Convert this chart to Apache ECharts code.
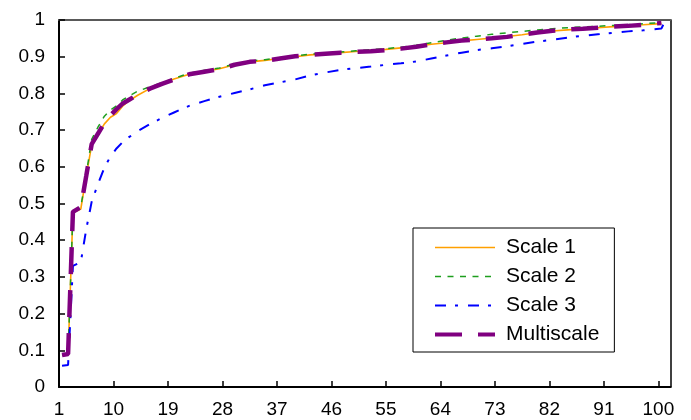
<!DOCTYPE html>
<html>
<head>
<meta charset="utf-8">
<script src="https://cdn.jsdelivr.net/npm/echarts@6/dist/echarts.min.js"></script>
<style>html,body{margin:0;padding:0;background:#fff;}#c{width:691px;height:420px;}</style>
</head>
<body>
<div id="c"></div>
<script>
// x positions (rank) of the sampled points
const xs = [1.5, 2.5, 3.3, 4.6, 5.5, 6.4, 7.5, 8.5, 9.5, 10.5, 11.5, 12.5, 14, 16, 18, 20,
  22.5, 25, 27.5, 30, 32.5, 35, 37.5, 40, 42.5, 45, 47.5, 50, 52.5, 55, 57.5, 60,
  62.5, 65, 67.5, 70, 72.5, 75, 77.5, 80, 82.5, 85, 87.5, 90, 92.5, 95, 97.5, 100.5, 101.2];

const scale1 = [0.087, 0.09, 0.475, 0.485, 0.575, 0.66, 0.69, 0.717, 0.735, 0.745, 0.765, 0.779, 0.795, 0.813, 0.827, 0.839,
  0.852, 0.86, 0.867, 0.878, 0.886, 0.89, 0.895, 0.9, 0.905, 0.908, 0.911, 0.914, 0.917, 0.92, 0.924, 0.928,
  0.934, 0.938, 0.943, 0.947, 0.951, 0.955, 0.96, 0.966, 0.97, 0.973, 0.976, 0.979, 0.982, 0.985, 0.987, 0.99];

const scale2 = [0.087, 0.09, 0.477, 0.49, 0.58, 0.675, 0.71, 0.738, 0.755, 0.766, 0.782, 0.792, 0.806, 0.818, 0.829, 0.841,
  0.855, 0.863, 0.869, 0.88, 0.888, 0.892, 0.897, 0.902, 0.907, 0.91, 0.913, 0.916, 0.919, 0.922, 0.926, 0.931,
  0.938, 0.945, 0.951, 0.956, 0.961, 0.965, 0.969, 0.973, 0.976, 0.979, 0.981, 0.983, 0.985, 0.987, 0.99, 0.993];

const scale3 = [0.058, 0.06, 0.33, 0.34, 0.43, 0.505, 0.556, 0.598, 0.628, 0.65, 0.667, 0.68, 0.697, 0.716, 0.733, 0.748,
  0.766, 0.779, 0.791, 0.801, 0.811, 0.822, 0.83, 0.838, 0.849, 0.857, 0.864, 0.869, 0.873, 0.878, 0.882, 0.887,
  0.895, 0.903, 0.911, 0.918, 0.923, 0.928, 0.935, 0.941, 0.946, 0.952, 0.957, 0.961, 0.965, 0.969, 0.972, 0.977, 1.0];

const multiscale = [0.087, 0.09, 0.477, 0.49, 0.575, 0.662, 0.692, 0.72, 0.74, 0.757, 0.772, 0.782, 0.797, 0.813, 0.826, 0.838,
  0.852, 0.859, 0.866, 0.878, 0.886, 0.889, 0.895, 0.901, 0.905, 0.908, 0.911, 0.913, 0.915, 0.918, 0.922, 0.927,
  0.934, 0.939, 0.944, 0.947, 0.95, 0.954, 0.96, 0.966, 0.971, 0.974, 0.976, 0.979, 0.982, 0.984, 0.987, 0.992];

const xTicks = [1, 10, 19, 28, 37, 46, 55, 64, 73, 82, 91, 100];
const seriesNames = ['Scale 1', 'Scale 2', 'Scale 3', 'Multiscale'];

const FONT = 'Liberation Sans, Arial, sans-serif';
function pairs(arr) {
  const out = [];
  for (let i = 0; i < arr.length; i++) out.push([xs[i], arr[i]]);
  return out;
}

const styles = [
  {color: '#FFA000', width: 1.6, type: 'solid'},
  {color: '#1E9E1E', width: 1.5, type: [6, 6.5]},
  {color: '#0000FF', width: 2, type: [11, 9, 3, 10]},
  {color: '#800080', width: 4.5, type: [27, 16]}
];
const dataSets = [scale1, scale2, scale3, multiscale];

const chart = echarts.init(document.getElementById('c'), null, {renderer: 'canvas'});
chart.setOption({
  animation: false,
  backgroundColor: '#fff',
  grid: {left: 59, right: 20.5, top: 20, bottom: 33, containLabel: false},
  xAxis: [{
    type: 'value', min: 1, max: 102, position: 'bottom',
    axisLine: {show: true, onZero: false, lineStyle: {color: '#000', width: 2}},
    axisTick: {show: true, inside: true, length: 6, customValues: xTicks, lineStyle: {color: '#000', width: 1.5}},
    axisLabel: {show: true, customValues: xTicks, fontSize: 19, color: '#000', fontFamily: FONT, margin: 13},
    splitLine: {show: false}
  }, {
    type: 'value', min: 1, max: 102, position: 'top',
    axisLine: {show: true, onZero: false, lineStyle: {color: '#595959', width: 2}},
    axisTick: {show: false}, axisLabel: {show: false}, splitLine: {show: false}
  }],
  yAxis: [{
    type: 'value', min: 0, max: 1, interval: 0.1, position: 'left',
    axisLine: {show: true, onZero: false, lineStyle: {color: '#000', width: 2}},
    axisTick: {show: true, inside: true, length: 6, lineStyle: {color: '#000', width: 1.5}},
    axisLabel: {show: true, fontSize: 19, color: '#000', fontFamily: FONT, margin: 14},
    splitLine: {show: false}
  }, {
    type: 'value', min: 0, max: 1, position: 'right',
    axisLine: {show: true, onZero: false, lineStyle: {color: '#000', width: 1.5}},
    axisTick: {show: false}, axisLabel: {show: false}, splitLine: {show: false}
  }],
  legend: {
    orient: 'vertical', left: 413, top: 228,
    padding: [9, 15, 7, 20],
    itemWidth: 60, itemHeight: 14, itemGap: 8,
    borderColor: '#000', borderWidth: 1, backgroundColor: '#fff',
    textStyle: {fontSize: 21, color: '#000', fontFamily: FONT, padding: [0, 0, 0, 6]},
    itemStyle: {opacity: 0},
    data: seriesNames.map((n, i) => ({
      name: n,
      itemStyle: {opacity: 0},
      lineStyle: {color: styles[i].color, width: Math.min(styles[i].width, 4), type: styles[i].type}
    }))
  },
  series: seriesNames.map((n, i) => ({
    name: n, type: 'line', data: pairs(dataSets[i]), symbol: 'none', showSymbol: false,
    lineStyle: styles[i], itemStyle: {color: styles[i].color}
  }))
});
</script>
</body>
</html>
